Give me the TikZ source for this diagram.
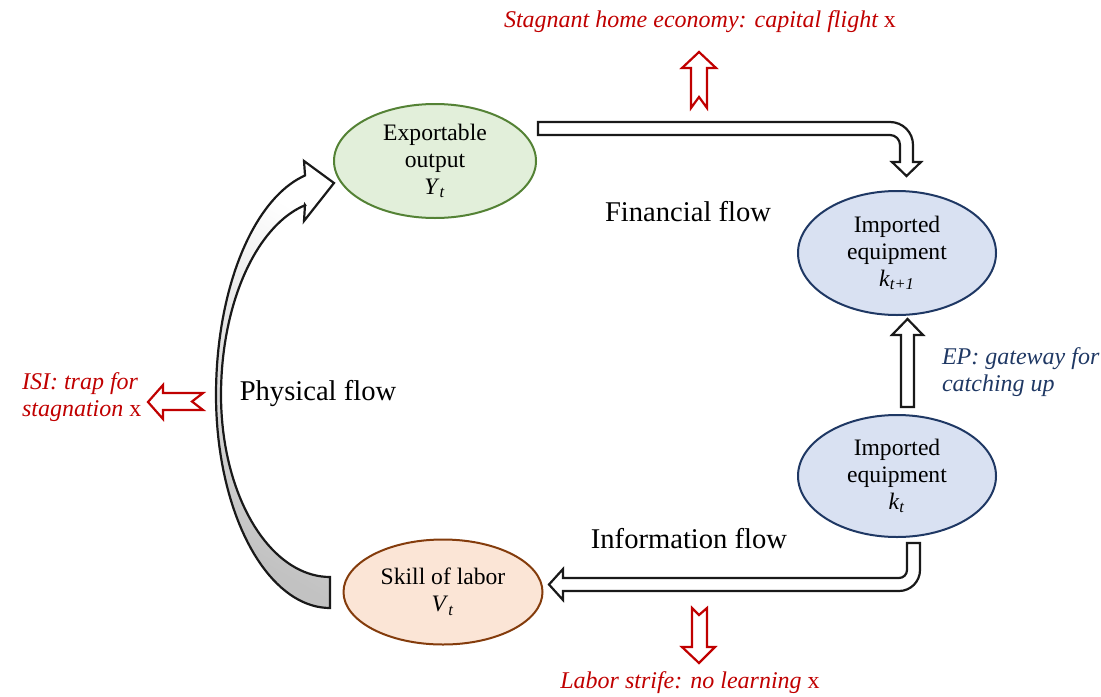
\documentclass[tikz,border=0pt]{standalone}
\usepackage{fontspec}
\setmainfont{Liberation Serif}
\usetikzlibrary{shapes.geometric}
\definecolor{exgreen}{HTML}{548235}
\definecolor{exfill}{HTML}{E2EFDA}
\definecolor{imblue}{HTML}{1F3864}
\definecolor{imfill}{HTML}{D9E1F2}
\definecolor{skbrown}{HTML}{843C0C}
\definecolor{skfill}{HTML}{FBE5D6}
\definecolor{warnred}{HTML}{C00000}
\tikzset{>=stealth,
  stock/.style={ellipse, draw, line width=1pt, inner sep=0pt, align=center,
    font=\fontsize{11.8}{13.5}\selectfont},
  flow/.style={font=\fontsize{14.3}{17}\selectfont},
  warn/.style={text=warnred, font=\fontsize{12}{13.5}\selectfont\itshape},
  block/.style={draw=black!90, line width=1.1pt, fill=white},
  redblock/.style={draw=warnred, line width=1.1pt, fill=white}
}

\begin{document}
\begin{tikzpicture}[x=0.5pt, y=-0.5pt]
    \useasboundingbox (0,0) rectangle (1101,696);
    % stocks
    \node[stock, draw=exgreen, fill=exfill, minimum width=101pt, minimum height=57pt] (exp) at (435,161)
        {Exportable\\output\\\textit{Y}\textsubscript{\textit{t}}};
    \node[stock, draw=imblue, fill=imfill, minimum width=99pt, minimum height=62pt] (knext) at (897,253)
        {Imported\\equipment\\\textit{k}\textsubscript{\textit{t+1}}};
    \node[stock, draw=imblue, fill=imfill, minimum width=99pt, minimum height=61pt] (know) at (897,476)
        {Imported\\equipment\\\textit{k}\textsubscript{\textit{t}}};
    \node[stock, draw=skbrown, fill=skfill, minimum width=99.5pt, minimum height=52.5pt] (skill) at (443,592)
        {Skill of labor\\\textit{V}\textsubscript{\textit{t}}};
    % flows
    \node[flow] (fin) at (688,212) {Financial flow};
    \node[flow] (phys) at (318,394) {Physical flow};
    \node[flow] (info) at (689,539) {Information flow};
    % financial flow arrow
    \draw[block] (538,122) -- (890,122) .. controls (902.7,122) and (913,132.3) .. (913,145)
        -- (913,162) -- (921,162) -- (906.5,176) -- (892,162) -- (900,162) -- (900,145)
        .. controls (900,139.5) and (895.5,135) .. (890,135) -- (538,135) -- cycle;
    % gateway arrow
    \draw[block] (901,407) -- (901,335) -- (892,335) -- (907.5,319) -- (923,335) -- (914,335) -- (914,407) -- cycle;
    % information flow arrow
    \draw[block] (907,543) -- (920,543) -- (920,570) .. controls (920,581.6) and (910.6,591) .. (899,591)
        -- (563,591) -- (563,600) -- (549,584.5) -- (563,569) -- (563,578) -- (899,578)
        .. controls (903.4,578) and (907,574.4) .. (907,570) -- cycle;
    % physical flow arrow
    \draw[draw=black!90, line width=1.1pt, top color=white, bottom color=black!24, shading angle=-30]
        (305,175) -- (304,161) -- (334,183) -- (304,221) -- (305,205)
        -- plot[domain=76.8:0, samples=40] ({330-109*cos(\x)},{395-195*sin(\x)})
        -- plot[domain=0:90, samples=40] ({330-109*cos(\x)},{395+182*sin(\x)})
        -- (330,608)
        -- plot[domain=90:0, samples=40] ({330-114*cos(\x)},{395+213*sin(\x)})
        -- plot[domain=0:77.35, samples=40] ({330-114*cos(\x)},{395-225*sin(\x)})
        -- cycle;
    % leaks
    \draw[redblock] (691,108) -- (691,68) -- (682,68) -- (699,52) -- (716,68) -- (707,68) -- (707,108) -- (699,97) -- cycle;
    \draw[redblock] (203,393) -- (163,393) -- (163,385) -- (148,402) -- (163,419) -- (163,410) -- (203,410) -- (192,401.5) -- cycle;
    \draw[redblock] (692,608) -- (699,615) -- (707,608) -- (707,647) -- (715,647) -- (699,663) -- (682,647) -- (692,647) -- cycle;
    \node[warn] (flight) at (700,22) {Stagnant home economy: capital flight \upshape x};
    \node[warn, anchor=west, align=left] (isi) at (15,397) {ISI: trap for\\stagnation \upshape x};
    \node[warn] (strife) at (690,683) {Labor strife: no learning \upshape x};
    \node[anchor=west, align=left, text=imblue, font=\fontsize{12}{13.5}\selectfont\itshape] (ep) at (935,372)
        {EP: gateway for\\catching up};
\end{tikzpicture}
\end{document}
